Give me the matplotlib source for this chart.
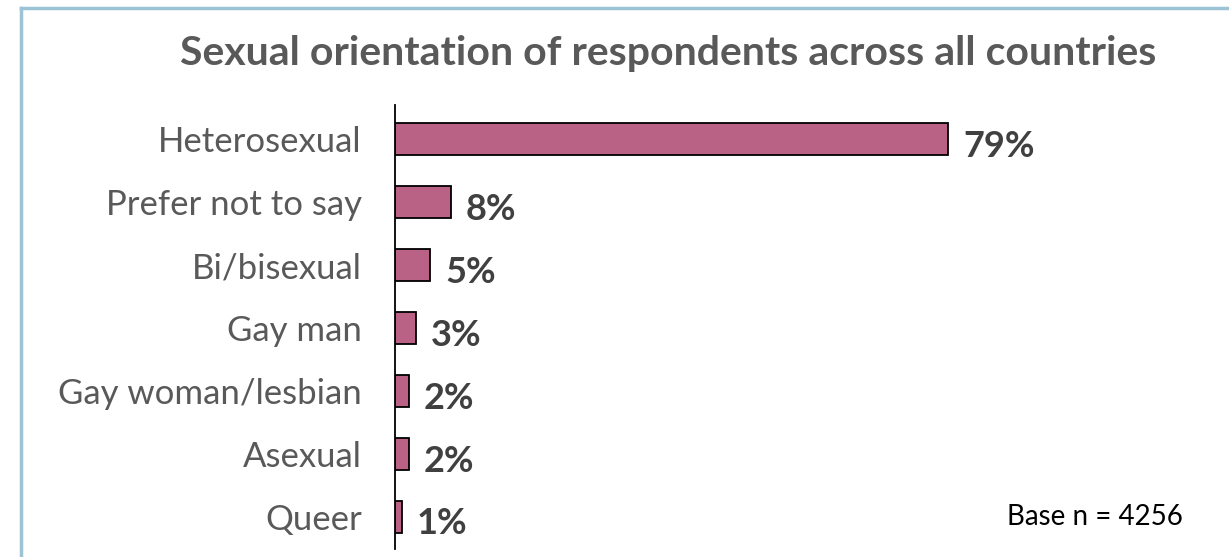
import matplotlib
matplotlib.use("Agg")
import matplotlib.pyplot as plt
from matplotlib.lines import Line2D

categories = ["Heterosexual", "Prefer not to say", "Bi/bisexual", "Gay man",
              "Gay woman/lesbian", "Asexual", "Queer"]
percentages = [79, 8, 5, 3, 2, 2, 1]
value_labels = ["79%", "8%", "5%", "3%", "2%", "2%", "1%"]
title = "Sexual orientation of respondents across all countries"
base_note = "Base n = 4256"

plt.rcParams["font.family"] = ["Lato", "DejaVu Sans"]

W, H, DPI = 1229, 557, 100
fig = plt.figure(figsize=(W / DPI, H / DPI), dpi=DPI)
fig.patch.set_facecolor("white")

ax = fig.add_axes([395 / W, 8.5 / H, (1180 - 395) / W, 441 / H])
ypos = list(range(len(categories)))
ax.barh(ypos, percentages, height=0.5, color="#BA6186",
        edgecolor="black", linewidth=1.3, zorder=2)
ax.set_xlim(0, 785 / 7.0)
ax.set_ylim(len(categories) - 0.5, -0.5)

for spine in ["top", "right", "bottom"]:
    ax.spines[spine].set_visible(False)
ax.spines["left"].set_linewidth(1.3)
ax.spines["left"].set_color("black")
ax.spines["left"].set_bounds(len(categories) - 0.5, -0.54)
ax.set_xticks([])
ax.set_yticks(ypos)
ax.set_yticklabels(categories, fontsize=25, color="#595959")
ax.tick_params(axis="y", length=0, pad=24)

for y, v, lab in zip(ypos, percentages, value_labels):
    ax.annotate(lab, (v, y), xytext=(15, -7), textcoords="offset pixels",
                ha="left", va="center", fontsize=26, fontweight="bold",
                color="#404040", annotation_clip=False)

fig.text(668 / W, 1 - 54 / H, title, ha="center", va="center",
         fontsize=29.5, fontweight="bold", color="#595959")
fig.text(1183 / W, 1 - 517 / H, base_note, ha="right", va="center",
         fontsize=20, color="black")

# frame on top and left edges
border = "#9DC3D6"
fig.add_artist(Line2D([21 / W, 21 / W], [0, 1 - 8 / H], color=border,
                      linewidth=2.5, transform=fig.transFigure))
fig.add_artist(Line2D([21 / W, 1], [1 - 8 / H, 1 - 8 / H], color=border,
                      linewidth=2.5, transform=fig.transFigure))

fig.savefig("out.png", dpi=DPI)
